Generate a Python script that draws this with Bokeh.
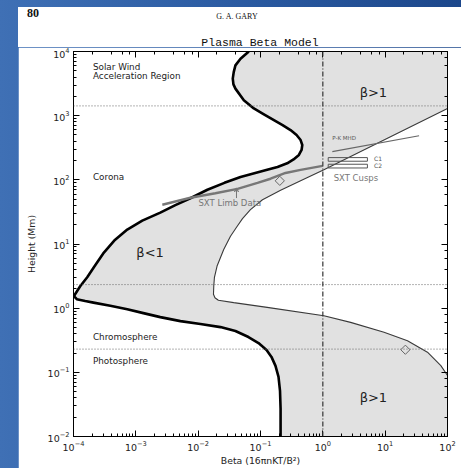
import numpy as np
from bokeh.plotting import figure
from bokeh.models import (LogAxis, Span, Arrow, VeeHead, CustomJSTickFormatter, Div)
from bokeh.layouts import column
from bokeh.core.properties import value
from bokeh.embed import file_html
from bokeh.resources import INLINE

# ---------------- data ----------------
# beta < 1 boundary (thick black curve), beta vs height (Mm)
low_beta = [0.0649, 0.0478, 0.0396, 0.0372, 0.0359, 0.0368, 0.0396, 0.0540, 0.0782, 0.1116,
            0.164, 0.226, 0.303, 0.379, 0.440, 0.468, 0.456, 0.413, 0.339, 0.268,
            0.1875, 0.128, 0.0649, 0.0478, 0.0264, 0.01406, 0.0075, 0.00430, 0.00247, 0.00127,
            0.000729, 0.000451, 0.000300, 0.000223, 0.000166, 0.000128, 0.000106, 0.0001026,
            0.000113, 0.000154, 0.000209, 0.000389, 0.000729, 0.00132, 0.00247, 0.00519,
            0.01087, 0.0228, 0.0396, 0.0641, 0.0929, 0.125, 0.150, 0.174, 0.1945, 0.2056,
            0.210, 0.210]
low_h = [10000, 7710, 6070, 4780, 3780, 3076, 2640, 1740, 1295, 1055,
         851, 713, 596, 499, 417, 349, 292, 244, 208, 181,
         159, 143, 120, 111, 89.8, 70.0, 51.7, 40.3, 30.8, 23.1,
         16.8, 11.3, 7.13, 4.65, 3.03, 2.19, 1.65, 1.53,
         1.38, 1.29, 1.22, 1.094, 0.965, 0.837, 0.725, 0.628,
         0.565, 0.507, 0.440, 0.355, 0.286, 0.223, 0.174, 0.126, 0.0851, 0.0516,
         0.0272, 0.01]

# beta > 1 boundary (thin curve)
high_beta = [100, 1.04, 0.440, 0.210, 0.1076, 0.0690, 0.0514, 0.0423, 0.0330, 0.0257,
             0.0201, 0.01824, 0.0178, 0.0176, 0.01858, 0.0211, 0.0372, 0.128, 1.04, 2.79,
             9.59, 22.8, 47.7, 78.2, 100]
high_h = [1295, 143, 96.4, 68.7, 49.0, 34.3, 24.8, 18.9, 13.2, 8.22,
          4.53, 3.03, 2.22, 1.65, 1.455, 1.33, 1.22, 1.03, 0.760, 0.600,
          0.420, 0.311, 0.206, 0.127, 0.0891]

# SXT limb data
limb_beta = [0.00266, 0.0075, 0.0189, 0.0428, 0.0895, 0.145, 0.252, 0.440, 0.99]
limb_h = [40.9, 52.6, 61.8, 72.4, 89.8, 104, 128, 143, 165]

# P-K MHD line
pk_beta = [1.42, 35.0]
pk_h = [275, 486]

# SXT cusps C1, C2
cusp_names = ["C1", "C2"]
cusp_left = [1.22, 1.22]
cusp_right = [5.19, 5.19]
cusp_top = [222, 175]
cusp_bottom = [195, 153]
cusp_label_beta = [6.62, 6.62]
cusp_label_h = [212, 167]

# diamonds
diamond_beta = [0.204, 21.1]
diamond_h = [96.4, 0.225]

# layer boundaries and beta = 1
layer_heights = [1420, 2.33, 0.23]
beta_unity = 1.0

# labels
region_names = ["Solar Wind", "Acceleration Region", "Corona", "Chromosphere", "Photosphere"]
region_beta = [0.000205, 0.000205, 0.000205, 0.000205, 0.000205]
region_h = [5720, 4140, 109, 0.359, 0.149]

regime_names = ["\u03b2>1", "\u03b2<1", "\u03b2>1"]
regime_beta = [3.90, 0.00102, 3.90]
regime_h = [2290, 7.31, 0.0412]

BG = "#e1e1e1"
FONT = "DejaVu Sans"

header = Div(
    width=443, height=40,
    text=(
        '<div style="position:relative;width:443px;height:40px;background:white;">'
        '<span style="position:absolute;left:9px;top:0px;line-height:12px;'
        'font-family:\'Liberation Serif\';font-size:12px;font-weight:bold;color:#111;">80</span>'
        '<span style="position:absolute;left:169px;width:100px;top:5px;line-height:10px;text-align:center;'
        'font-family:\'Liberation Serif\';font-size:8px;color:#111;">G. A. GARY</span>'
        '<span style="position:absolute;left:162px;width:160px;top:29px;line-height:13px;text-align:center;'
        'font-family:\'Liberation Mono\';font-size:11.5px;color:#111;">Plasma Beta Model</span>'
        '</div>'
    ),
    styles={"background": "white", "margin": "0px", "padding": "0px"},
)

p = figure(width=443, height=421, x_axis_type="log", y_axis_type="log",
           x_range=(1e-4, 1e2), y_range=(1e-2, 1e4), title=None,
           output_backend="svg", toolbar_location=None,
           min_border_left=55, min_border_right=14, min_border_top=4, min_border_bottom=30,
           background_fill_color="white", border_fill_color="white")
p.grid.visible = False
p.outline_line_color = "black"
p.outline_line_width = 1

# grey region right of thick curve
gx = low_beta + [1000, 1000]
gy = low_h + [0.01, 10000]
p.patch(gx, gy, fill_color=BG, line_color=None)
# white region right of thin curve
wx = high_beta + [1000, 1000]
wy = high_h + [high_h[-1], high_h[0]]
p.patch(wx, wy, fill_color="white", line_color=None)

for h in layer_heights:
    p.add_layout(Span(location=h, dimension="width", line_color="#666666",
                      line_dash="1 2", line_width=1))
p.add_layout(Span(location=beta_unity, dimension="height", line_color="#333333",
                  line_dash="5 2 1 2", line_width=1.2))

p.line(high_beta, high_h, line_color="#3a3a3a", line_width=1.1)
p.line(low_beta, low_h, line_color="black", line_width=2.6, line_join="round")
p.line(limb_beta, limb_h, line_color="#777777", line_width=2.4)
p.line(pk_beta, pk_h, line_color="#666666", line_width=1.1)
p.quad(left=cusp_left, right=cusp_right, top=cusp_top, bottom=cusp_bottom,
       fill_color=None, line_color="#555555", line_width=1)
p.scatter(diamond_beta, diamond_h, marker="square", angle=np.pi / 4, size=6.5,
          fill_color=None, line_color="#666666", line_width=1)

p.add_layout(Arrow(end=VeeHead(size=4, line_color="#777777", line_width=1, fill_color=None),
                   x_start=0.0412, y_start=52, x_end=0.0412, y_end=75,
                   line_color="#777777", line_width=1))

p.text(region_beta, region_h, text=region_names, text_font=value(FONT),
       text_font_size="8.8px", text_baseline="middle", text_align="left", text_color="#222222")
p.text(regime_beta, regime_h, text=regime_names, text_font=value(FONT),
       text_font_size="13px", text_baseline="middle", text_align="left", text_color="#222222")
p.text([1.42], [443], text=["P-K MHD"], text_font=value(FONT), text_font_size="5.5px",
       text_baseline="middle", text_color="#555555")
p.text(cusp_label_beta, cusp_label_h, text=cusp_names, text_font=value(FONT), text_font_size="6px",
       text_baseline="middle", text_color="#555555")
p.text([1.49], [106], text=["SXT Cusps"], text_font=value(FONT), text_font_size="8.5px",
       text_baseline="middle", text_color="#777777")
p.text([0.0101], [43.6], text=["SXT Limb Data"], text_font=value(FONT), text_font_size="8.5px",
       text_baseline="middle", text_color="#777777")

# axes
def style_axis(ax):
    ax.major_tick_in = 6
    ax.major_tick_out = 0
    ax.minor_tick_in = 3
    ax.minor_tick_out = 0
    ax.axis_line_color = "black"
    ax.major_tick_line_color = "black"
    ax.minor_tick_line_color = "black"
    ax.major_label_text_font = FONT
    ax.major_label_text_font_size = "9.5px"
    ax.major_label_text_color = "#222222"
    ax.axis_label_text_font = FONT
    ax.axis_label_text_font_size = "9.3px"
    ax.axis_label_text_font_style = "normal"
    ax.axis_label_text_color = "#222222"

style_axis(p.xaxis[0])
style_axis(p.yaxis[0])
p.xaxis[0].axis_label = "Beta (16\u03c0nKT/B\u00b2)"
p.yaxis[0].axis_label = "Height (Mm)"
p.xaxis[0].major_label_standoff = 4
p.xaxis[0].axis_label_standoff = 1
p.yaxis[0].major_label_standoff = 4
p.yaxis[0].axis_label_standoff = 8

for loc in ["above", "right"]:
    ax = LogAxis(formatter=CustomJSTickFormatter(code="return ''"))
    style_axis(ax)
    ax.major_label_standoff = 0
    ax.major_label_text_font_size = "0px"
    p.add_layout(ax, loc)

layout = column(header, p, spacing=0,
                styles={"background": "linear-gradient(90deg, #3f70b5 0%, #2b5ba2 50%, #1c478b 100%)",
                        "padding": "7px 0px 0px 18px"})

open("out.html", "w").write(file_html(layout, INLINE))
